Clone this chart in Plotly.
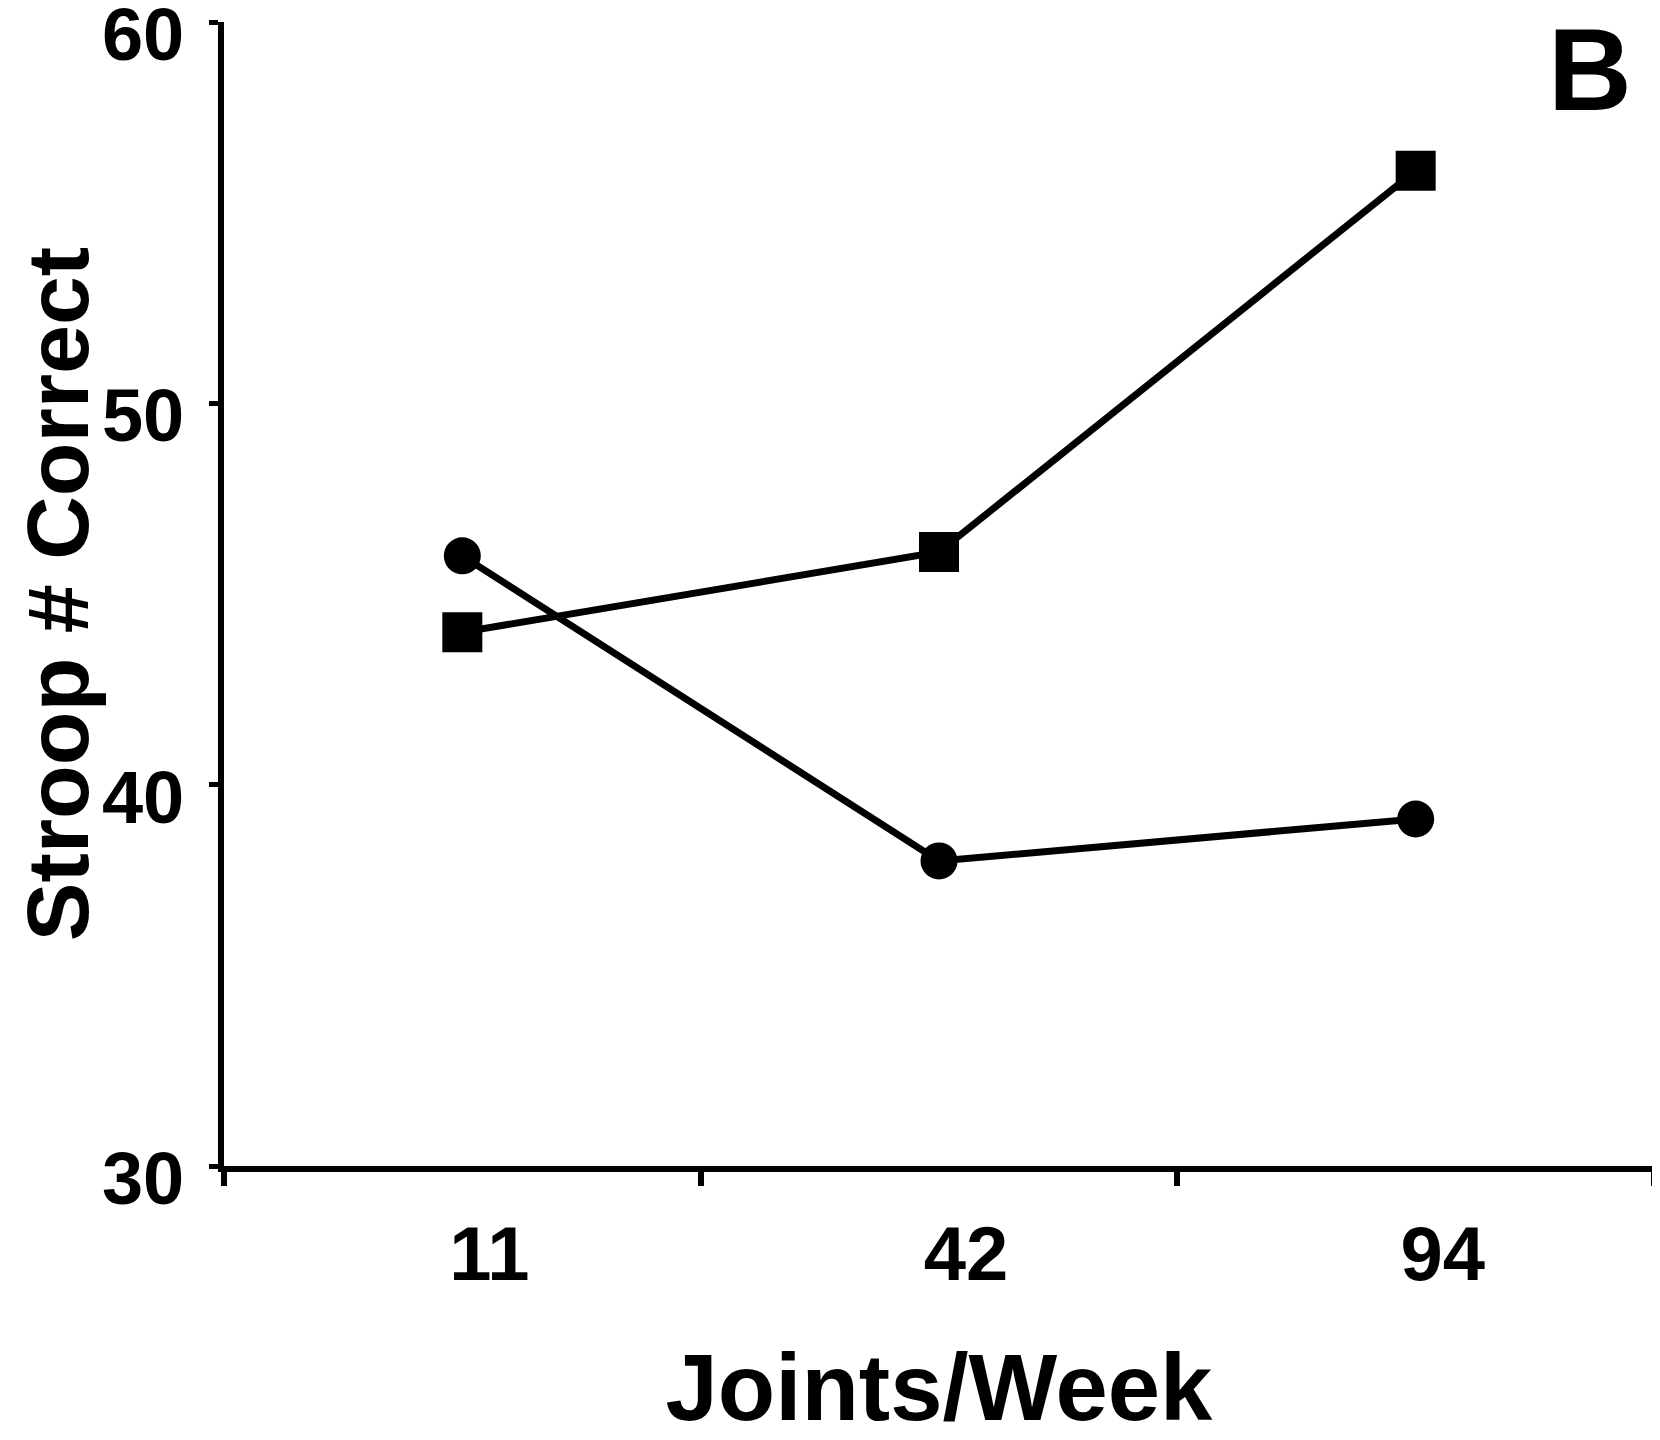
import plotly.graph_objects as go

categories = ["11", "42", "94"]
square_values = [44.0, 46.1, 56.1]
circle_values = [46.0, 38.0, 39.1]
y_ticks = [30, 40, 50, 60]

FONT = "Liberation Sans, Arial, Helvetica, sans-serif"

fig = go.Figure()
fig.add_trace(go.Scatter(
    x=categories, y=square_values, mode="lines+markers",
    line=dict(color="black", width=7),
    marker=dict(symbol="square", size=40, color="black"),
    showlegend=False,
))
fig.add_trace(go.Scatter(
    x=categories, y=circle_values, mode="lines+markers",
    line=dict(color="black", width=7),
    marker=dict(symbol="circle", size=37, color="black"),
    showlegend=False,
))

fig.update_layout(
    width=1660, height=1440,
    margin=dict(l=216, r=14, t=14, b=282, autoexpand=False),
    paper_bgcolor="white", plot_bgcolor="white",
    font=dict(family=FONT, color="black"),
    annotations=[dict(
        text="<b>B</b>", xref="paper", yref="paper", x=0.955, y=0.958,
        xanchor="center", yanchor="middle", showarrow=False,
        font=dict(size=116, family=FONT, color="black"),
    )],
)

fig.update_xaxes(
    type="category", range=[-0.5, 2.5], automargin=False,
    showline=True, linecolor="black", linewidth=6,
    ticks="outside", tickson="boundaries", ticklen=14, tickwidth=6, tickcolor="black",
    ticklabelshift=27, ticklabelstandoff=17,
    tickfont=dict(size=76, family=FONT, color="black", weight="bold"),
    showgrid=False, zeroline=False,
    title=dict(text="<b>Joints/Week</b>", standoff=61,
               font=dict(size=94, family=FONT, color="black")),
)
fig.update_yaxes(
    range=[30, 60], tickvals=y_ticks, automargin=False,
    showline=True, linecolor="black", linewidth=6,
    ticks="outside", ticklen=9, tickwidth=5, tickcolor="black",
    ticklabelstandoff=10, ticklabelshift=12, ticklabeloverflow="allow",
    tickfont=dict(size=74, family=FONT, color="black", weight="bold"),
    showgrid=False, zeroline=False,
    title=dict(text="<b>Stroop # Correct</b>", standoff=42,
               font=dict(size=88, family=FONT, color="black")),
)

fig.write_html("out.html")
